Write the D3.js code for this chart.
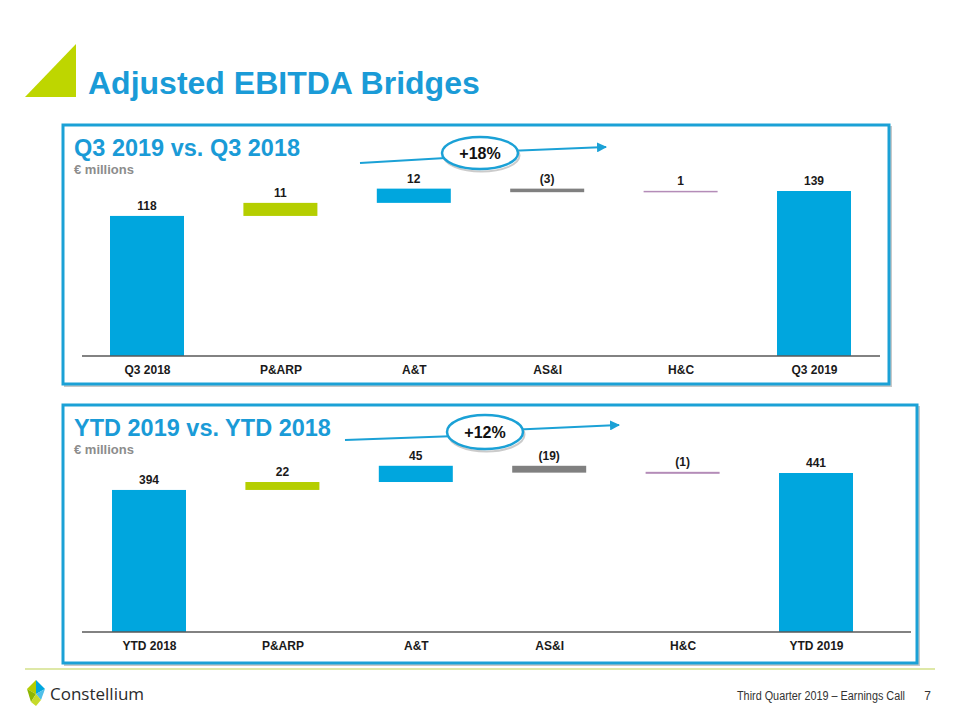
<!DOCTYPE html>
<html>
<head>
<meta charset="utf-8">
<script src="https://cdn.jsdelivr.net/npm/d3@7"></script>
<style>
  html, body { margin: 0; padding: 0; background: #fff; }
  svg { display: block; }
</style>
</head>
<body>
<svg id="chart" width="960" height="720"></svg>
<script>
// ---------- DATA ----------
const q3Categories = ["Q3 2018", "P&ARP", "A&T", "AS&I", "H&C", "Q3 2019"];
const q3Values = [118, 11, 12, -3, 1, 139];
const q3Labels = ["118", "11", "12", "(3)", "1", "139"];
const q3Kinds = ["total", "delta", "delta", "delta", "delta", "total"];

const ytdCategories = ["YTD 2018", "P&ARP", "A&T", "AS&I", "H&C", "YTD 2019"];
const ytdValues = [394, 22, 45, -19, -1, 441];
const ytdLabels = ["394", "22", "45", "(19)", "(1)", "441"];
const ytdKinds = ["total", "delta", "delta", "delta", "delta", "total"];

const barColors = ["#00A6DE", "#B5CE00", "#00A6DE", "#808080", "#B48CB8", "#00A6DE"];

const q3Growth = "+18%";
const ytdGrowth = "+12%";

// ---------- DRAW ----------
const svg = d3.select("#chart");
const LABEL_FONT = "'Liberation Sans Narrow', 'Liberation Sans', Arial, sans-serif";

// Title
svg.append("path")
  .attr("d", "M25,97 L76,44 L76,97 Z")
  .attr("fill", "#BED600");
svg.append("text")
  .attr("x", 88).attr("y", 94)
  .attr("font-family", "'Liberation Sans', Arial, sans-serif")
  .attr("font-weight", "bold")
  .attr("font-size", 32)
  .attr("fill", "#1A9BD7")
  .text("Adjusted EBITDA Bridges");

function panel(opts) {
  const g = svg.append("g");
  // box shadow
  g.append("rect")
    .attr("x", opts.box[0] + 2).attr("y", opts.box[1] + 2)
    .attr("width", opts.box[2] - opts.box[0]).attr("height", opts.box[3] - opts.box[1])
    .attr("fill", "none").attr("stroke", "#c8c8c8").attr("stroke-width", 2);
  g.append("rect")
    .attr("x", opts.box[0]).attr("y", opts.box[1])
    .attr("width", opts.box[2] - opts.box[0]).attr("height", opts.box[3] - opts.box[1])
    .attr("fill", "#fff").attr("stroke", "#1BA1D6").attr("stroke-width", 3);

  // headings
  g.append("text")
    .attr("x", opts.box[0] + 11).attr("y", opts.box[1] + 31)
    .attr("font-family", "'Liberation Sans', Arial, sans-serif")
    .attr("font-weight", "bold").attr("font-size", 23.5)
    .attr("fill", "#1A9BD7")
    .text(opts.title);
  g.append("text")
    .attr("x", opts.box[0] + 11).attr("y", opts.box[1] + 49)
    .attr("font-family", "'Liberation Sans', Arial, sans-serif")
    .attr("font-weight", "bold").attr("font-size", 13)
    .attr("fill", "#8C8C8C")
    .text("€ millions");

  const x = d3.scalePoint().domain(opts.categories).range(opts.xRange).padding(0);
  const y = d3.scaleLinear().domain([0, opts.refValue]).range([opts.baseY, opts.refY]);
  const bw = 74;

  // compute waterfall
  let running = 0;
  const bars = opts.values.map((v, i) => {
    let lo, hi;
    if (opts.kinds[i] === "total") { lo = 0; hi = v; running = v; }
    else { const start = running; running += v; lo = Math.min(start, running); hi = Math.max(start, running); }
    return { cat: opts.categories[i], lo, hi, label: opts.labels[i], color: barColors[i] };
  });

  const topOf = d => {
    const h = y(d.lo) - y(d.hi);
    return h < opts.minH ? (y(d.lo) + y(d.hi)) / 2 - opts.minH / 2 : y(d.hi);
  };

  g.selectAll("rect.bar").data(bars).enter().append("rect")
    .attr("class", "bar")
    .attr("x", d => x(d.cat) - bw / 2)
    .attr("width", bw)
    .attr("y", topOf)
    .attr("height", d => Math.max(opts.minH, y(d.lo) - y(d.hi)))
    .attr("fill", d => d.color);

  g.selectAll("text.val").data(bars).enter().append("text")
    .attr("class", "val")
    .attr("x", d => x(d.cat))
    .attr("y", d => topOf(d) - 6)
    .attr("text-anchor", "middle")
    .attr("font-family", LABEL_FONT)
    .attr("font-weight", "bold").attr("font-size", 12)
    .attr("fill", "#1a1a1a")
    .text(d => d.label);

  // axis
  const axis = d3.axisBottom(x).tickSize(0).tickPadding(9);
  const ax = g.append("g").attr("transform", `translate(0,${opts.baseY})`).call(axis);
  ax.select(".domain").remove();
  g.append("line")
    .attr("x1", opts.axisX[0]).attr("x2", opts.axisX[1])
    .attr("y1", opts.baseY).attr("y2", opts.baseY)
    .attr("stroke", "#595959").attr("stroke-width", 1.5);
  ax.selectAll("text")
    .attr("font-family", LABEL_FONT)
    .attr("font-weight", "bold").attr("font-size", 12)
    .attr("fill", "#1a1a1a");

  // growth arrow
  const a = opts.arrow;
  const defsId = "arrow" + opts.id;
  svg.append("defs").append("marker")
    .attr("id", defsId).attr("viewBox", "0 0 10 10")
    .attr("refX", 9).attr("refY", 5)
    .attr("markerWidth", 5).attr("markerHeight", 5)
    .attr("orient", "auto")
    .append("path").attr("d", "M0,0 L10,5 L0,10 Z").attr("fill", "#1BA1D6");
  g.append("line")
    .attr("x1", a.x1).attr("y1", a.y1).attr("x2", a.cx).attr("y2", a.cy + 3)
    .attr("stroke", "#1BA1D6").attr("stroke-width", 2);
  g.append("line")
    .attr("x1", a.cx).attr("y1", a.cy - 1).attr("x2", a.x2).attr("y2", a.y2)
    .attr("stroke", "#1BA1D6").attr("stroke-width", 2)
    .attr("marker-end", `url(#${defsId})`);
  g.append("ellipse")
    .attr("cx", a.cx + 1.5).attr("cy", a.cy + 2.5).attr("rx", a.rx).attr("ry", a.ry)
    .attr("fill", "none").attr("stroke", "#a9a9a9").attr("stroke-width", 2).attr("opacity", 0.6);
  g.append("ellipse")
    .attr("cx", a.cx).attr("cy", a.cy).attr("rx", a.rx).attr("ry", a.ry)
    .attr("fill", "#fff").attr("stroke", "#1BA1D6").attr("stroke-width", 2.5);
  g.append("text")
    .attr("x", a.cx).attr("y", a.cy + 6)
    .attr("text-anchor", "middle")
    .attr("font-family", "'Liberation Sans', Arial, sans-serif")
    .attr("font-weight", "bold").attr("font-size", 16)
    .attr("fill", "#111")
    .text(opts.growth);
}

panel({
  id: "q3",
  box: [63, 125, 889, 384],
  title: "Q3 2019 vs. Q3 2018",
  categories: q3Categories, values: q3Values, labels: q3Labels, kinds: q3Kinds,
  xRange: [147, 814], axisX: [82, 880],
  baseY: 356, refValue: 139, refY: 191, minH: 1.5,
  growth: q3Growth,
  arrow: { x1: 360, y1: 163, cx: 480, cy: 153, rx: 38, ry: 16, x2: 606, y2: 147 }
});

panel({
  id: "ytd",
  box: [63, 405, 917, 663],
  title: "YTD 2019 vs. YTD 2018",
  categories: ytdCategories, values: ytdValues, labels: ytdLabels, kinds: ytdKinds,
  xRange: [149, 816], axisX: [82, 911],
  baseY: 632, refValue: 441, refY: 473, minH: 2,
  growth: ytdGrowth,
  arrow: { x1: 345, y1: 440, cx: 485, cy: 432, rx: 38, ry: 17, x2: 619, y2: 425 }
});

// footer
svg.append("line")
  .attr("x1", 25).attr("x2", 935).attr("y1", 669).attr("y2", 669)
  .attr("stroke", "#D3E08A").attr("stroke-width", 1.5);

// logo icon
const logo = svg.append("g").attr("transform", "translate(27,680)");
logo.append("path").attr("d", "M9,0 L18,9 L9,14 Z").attr("fill", "#00A6DE");
logo.append("path").attr("d", "M9,0 L0,9 L9,14 Z").attr("fill", "#B5CE00");
logo.append("path").attr("d", "M0,9 L9,14 L4,22 Z").attr("fill", "#8DB600");
logo.append("path").attr("d", "M18,9 L9,14 L14,20 Z").attr("fill", "#4FBFE8");
logo.append("path").attr("d", "M9,14 L4,22 L9,26 L14,20 Z").attr("fill", "#C6DA2A");
svg.append("text")
  .attr("x", 50).attr("y", 700)
  .attr("font-family", "'Open Sans', 'Liberation Sans', sans-serif")
  .attr("font-size", 17)
  .attr("fill", "#2b2b2b")
  .text("Constellium");

svg.append("text")
  .attr("x", 737).attr("y", 700)
  .attr("textLength", 168).attr("lengthAdjust", "spacingAndGlyphs")
  .attr("font-family", "'Liberation Sans', Arial, sans-serif")
  .attr("font-size", 12)
  .attr("fill", "#333")
  .text("Third Quarter 2019 – Earnings Call");
svg.append("text")
  .attr("x", 931).attr("y", 700)
  .attr("text-anchor", "end")
  .attr("font-family", "'Liberation Sans', Arial, sans-serif")
  .attr("font-size", 12)
  .attr("fill", "#333")
  .text("7");
</script>
</body>
</html>
